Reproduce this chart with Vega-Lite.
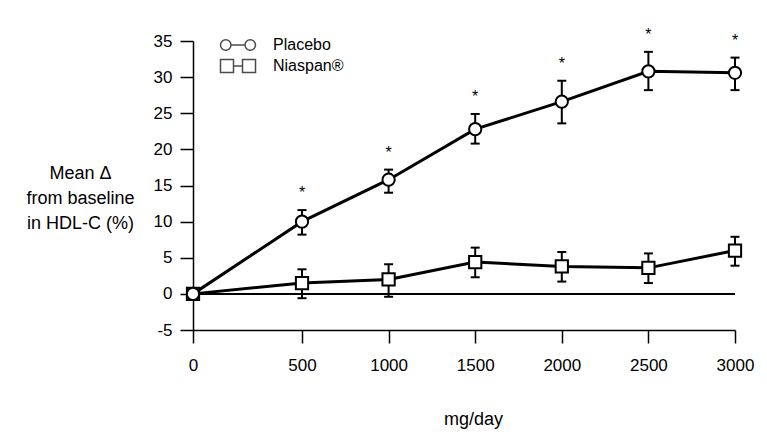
{
  "$schema": "https://vega.github.io/schema/vega-lite/v6.json",
  "width": 542,
  "height": 289,
  "autosize": {"type": "none"},
  "padding": {"left": 193, "top": 41, "right": 32, "bottom": 109},
  "background": "white",
  "config": {
    "view": {"stroke": null},
    "font": "Liberation Sans",
    "axis": {
      "grid": false,
      "domainColor": "black",
      "tickColor": "black",
      "labelColor": "black",
      "titleColor": "black",
      "labelFont": "Liberation Sans",
      "titleFont": "Liberation Sans",
      "titleFontWeight": "normal",
      "domainWidth": 1.5,
      "tickWidth": 1.5
    }
  },
  "data": {
    "values": [
      {"group": "Niaspan®", "dose": 0, "mean": 0, "lo": null, "hi": null, "sig": ""},
      {"group": "Niaspan®", "dose": 500, "mean": 1.5, "lo": -0.6, "hi": 3.4, "sig": ""},
      {"group": "Niaspan®", "dose": 1000, "mean": 2.0, "lo": -0.4, "hi": 4.1, "sig": ""},
      {"group": "Niaspan®", "dose": 1500, "mean": 4.4, "lo": 2.3, "hi": 6.4, "sig": ""},
      {"group": "Niaspan®", "dose": 2000, "mean": 3.8, "lo": 1.7, "hi": 5.8, "sig": ""},
      {"group": "Niaspan®", "dose": 2500, "mean": 3.6, "lo": 1.5, "hi": 5.6, "sig": ""},
      {"group": "Niaspan®", "dose": 3000, "mean": 6.0, "lo": 3.9, "hi": 7.9, "sig": ""},
      {"group": "Placebo", "dose": 0, "mean": 0, "lo": null, "hi": null, "sig": ""},
      {"group": "Placebo", "dose": 500, "mean": 10.0, "lo": 8.2, "hi": 11.6, "sig": "*"},
      {"group": "Placebo", "dose": 1000, "mean": 15.8, "lo": 14.0, "hi": 17.2, "sig": "*"},
      {"group": "Placebo", "dose": 1500, "mean": 22.8, "lo": 20.8, "hi": 24.9, "sig": "*"},
      {"group": "Placebo", "dose": 2000, "mean": 26.6, "lo": 23.6, "hi": 29.5, "sig": "*"},
      {"group": "Placebo", "dose": 2500, "mean": 30.8, "lo": 28.2, "hi": 33.5, "sig": "*"},
      {"group": "Placebo", "dose": 3000, "mean": 30.6, "lo": 28.2, "hi": 32.7, "sig": "*"}
    ]
  },
  "encoding": {
    "x": {
      "field": "dose",
      "type": "quantitative",
      "scale": {"type": "linear", "domain": [0, 500, 3000], "range": [0, 109, 542], "nice": false, "zero": false},
      "axis": {
        "values": [0, 500, 1000, 1500, 2000, 2500, 3000],
        "labelExpr": "'' + datum.value",
        "title": "mg/day",
        "titleFontSize": 18,
        "titleX": 280,
        "titleY": 94,
        "titleAlign": "center",
        "titleBaseline": "alphabetic",
        "labelFontSize": 17,
        "labelPadding": 14,
        "tickSize": 13,
        "labelFlush": false,
        "labelOverlap": false
      }
    },
    "y": {
      "field": "mean",
      "type": "quantitative",
      "scale": {"domain": [-5, 35], "nice": false, "zero": false},
      "axis": {
        "values": [-5, 0, 5, 10, 15, 20, 25, 30, 35],
        "tickCount": 9,
        "labelExpr": "'' + datum.value",
        "title": ["Mean Δ", "from baseline", "in HDL-C (%)"],
        "titleAngle": 0,
        "titleAlign": "center",
        "titleBaseline": "alphabetic",
        "titleX": -113,
        "titleY": 137,
        "titleFontSize": 18,
        "titleLineHeight": 25,
        "labelFontSize": 17,
        "labelPadding": 8,
        "tickSize": 13,
        "labelFlush": false,
        "labelOverlap": false
      }
    }
  },
  "layer": [
    {
      "mark": {"type": "rule", "color": "black", "strokeWidth": 1},
      "encoding": {"y": {"datum": 0, "type": "quantitative"}, "x": {"datum": 0, "type": "quantitative"}, "x2": {"datum": 3000}}
    },
    {
      "mark": {"type": "rule", "color": "black", "strokeWidth": 2},
      "encoding": {
        "y": {"field": "lo", "type": "quantitative"},
        "y2": {"field": "hi"}
      }
    },
    {
      "mark": {"type": "tick", "orient": "horizontal", "color": "black", "size": 9, "thickness": 2, "opacity": 1},
      "encoding": {
        "y": {"field": "lo", "type": "quantitative"}
      }
    },
    {
      "mark": {"type": "tick", "orient": "horizontal", "color": "black", "size": 9, "thickness": 2, "opacity": 1},
      "encoding": {
        "y": {"field": "hi", "type": "quantitative"}
      }
    },
    {
      "mark": {"type": "line", "color": "black", "strokeWidth": 3},
      "encoding": {
        "detail": {"field": "group", "type": "nominal"}
      }
    },
    {
      "mark": {"type": "point", "filled": true, "fill": "white", "stroke": "black", "strokeWidth": 2, "size": 150, "opacity": 1},
      "encoding": {
        "shape": {
          "field": "group",
          "type": "nominal",
          "scale": {"domain": ["Placebo", "Niaspan®"], "range": ["circle", "square"]},
          "legend": null
        }
      }
    },
    {
      "transform": [{"filter": "datum.dose < 0"}],
      "mark": {"type": "point", "filled": false, "color": "black", "strokeWidth": 2.5, "size": 100},
      "encoding": {
        "shape": {
          "field": "group",
          "type": "nominal",
          "scale": {"domain": ["Placebo", "Niaspan®"], "range": ["M-3.5,0A1.05,1.05,0,1,0,-1.4,0A1.05,1.05,0,1,0,-3.5,0Z M-1.4,0L1.4,0 M1.4,0A1.05,1.05,0,1,0,3.5,0A1.05,1.05,0,1,0,1.4,0Z", "M-3.5,-1.3L-0.9,-1.3L-0.9,1.3L-3.5,1.3Z M-0.9,0L0.9,0 M0.9,-1.3L3.5,-1.3L3.5,1.3L0.9,1.3Z"]},
          "legend": {
            "title": null,
            "orient": "none",
            "legendX": 37,
            "legendY": -4,
            "labelFontSize": 16,
            "labelColor": "black",
            "labelOffset": 27
          }
        }
      }
    },
    {
      "mark": {"type": "text", "color": "black", "fontSize": 16, "baseline": "alphabetic", "align": "center", "dy": -12},
      "encoding": {
        "y": {"field": "hi", "type": "quantitative"},
        "text": {"field": "sig"}
      }
    }
  ],
  "resolve": {"scale": {"shape": "independent"}}
}
